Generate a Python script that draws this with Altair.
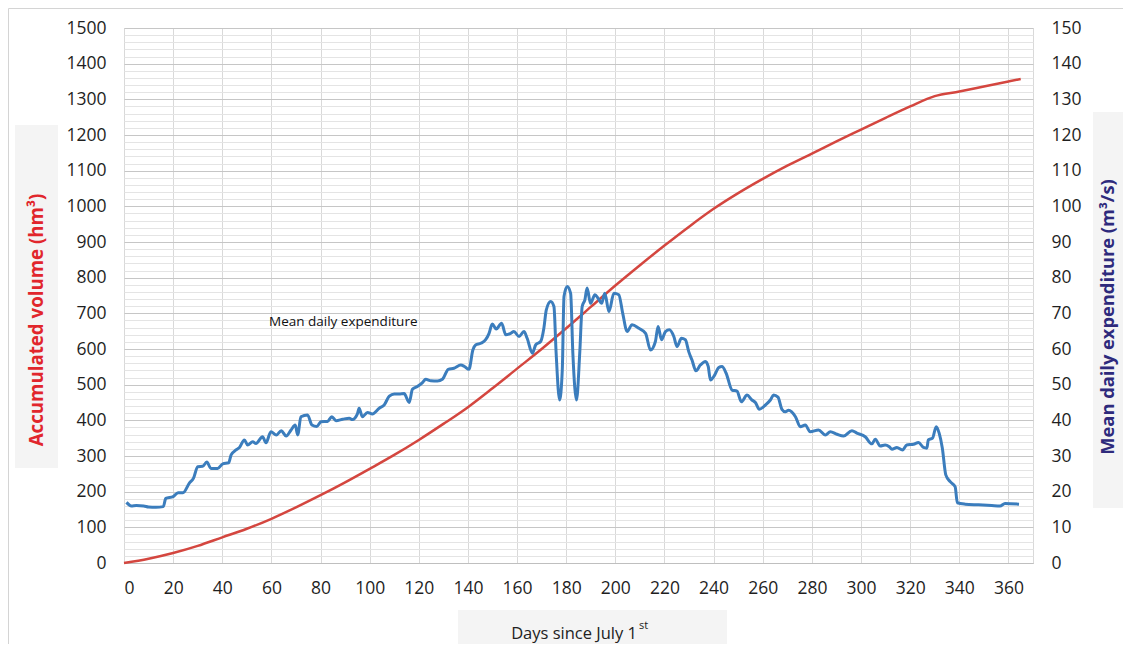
import altair as alt
import pandas as pd

# ---- data ----
blue_days = [1, 3, 5, 8, 10, 13, 16, 17, 20, 22, 24, 26.6, 28.3, 30, 32, 33.7, 35.4, 38.1, 40.2, 42.6,
             43.6, 45.6, 47, 49, 50.3, 52.4, 53.7, 56.4, 57.8, 59.8, 62, 64, 66, 68, 69.7, 70.7, 72, 74.7,
             76.5, 78.5, 80.2, 82.8, 84.6, 86.3, 89, 91.7, 93, 95, 95.7, 97, 99.1, 101.1, 103.9, 105.9,
             108, 110, 112, 114, 116.1, 117.4, 119.4, 121.5, 122.8, 124.9, 127.6, 129.6, 132, 134.3,
             137.1, 138.6, 140.4, 142, 143.1, 145.2, 147.2, 148.6, 149.9, 151.5, 153.7, 155.4, 157.4,
             158.7, 160.8, 162.8, 164.1, 166.2, 167.6, 169.6, 170.9, 171.9, 173.7, 175, 175.9, 177.3,
             178.4, 179.1, 180.4, 181.8, 182.7, 184.2, 185.5, 186.5, 187.6, 188.5, 189.9, 191.7, 193,
             194.4, 195.7, 197.4, 199.4, 201.4, 203, 204.8, 206.8, 209.6, 212.3, 214.3, 216.3, 217.4,
             218.8, 220.4, 222, 223.8, 225.1, 226.9, 228.5, 229.9, 231.2, 232.8, 234.6, 236.7, 237.8,
             238.7, 240.1, 242.1, 243.4, 245.1, 247.5, 249.5, 251.3, 253.6, 255.6, 257, 258.6, 261.1,
             263.1, 264.4, 266.2, 267.8, 269.2, 270.5, 273.3, 275.3, 277.3, 279.3, 282.7, 285.5, 287.5,
             290.2, 292.9, 296.3, 298.3, 301.7, 304.4, 305.8, 307.8, 309.8, 311.5, 312.6, 314.6, 316.9,
             318.6, 321.4, 323.4, 325.4, 326.8, 327.4, 329.1, 330.6, 331.8, 333.1, 334.5, 336.3, 338.3,
             339.2, 342.4, 347.8, 353.2, 356.6, 358.6, 364.3]
blue_vals = [17.0, 16.0, 16.1, 16.0, 15.7, 15.6, 15.8, 18.1, 18.6, 19.7, 19.7, 22.4, 23.8, 27.0, 27.1, 28.3,
             26.5, 26.5, 27.8, 28.1, 30.3, 31.7, 32.4, 34.5, 33.1, 34.0, 33.5, 35.4, 33.7, 36.8, 35.9, 37.1,
             35.6, 37.3, 38.7, 35.9, 41.0, 41.5, 38.7, 38.3, 39.6, 39.7, 41.0, 39.9, 40.3, 40.6, 40.2, 41.8,
             43.4, 41.0, 42.2, 41.8, 43.4, 44.3, 46.8, 47.4, 47.4, 47.5, 45.0, 48.7, 49.5, 50.6, 51.5, 51.1,
             51.0, 51.5, 54.3, 54.6, 55.5, 55.1, 54.3, 59.7, 61.1, 61.6, 62.6, 64.4, 67.0, 65.6, 67.2, 64.0,
             64.4, 64.9, 63.5, 64.9, 63.0, 58.8, 61.2, 62.1, 65.8, 71.0, 73.3, 71.9, 58.8, 45.7, 54.1, 74.7,
             77.5, 75.6, 58.8, 45.7, 58.8, 71.9, 73.8, 77.1, 72.8, 75.2, 74.2, 72.8, 75.6, 70.5, 75.6, 75.2,
             70.0, 64.9, 66.8, 65.8, 64.4, 59.7, 62.1, 66.3, 62.6, 64.9, 65.4, 63.5, 60.7, 63.0, 62.6, 59.2,
             56.9, 53.9, 55.5, 56.5, 55.1, 51.3, 52.3, 54.8, 55.1, 53.2, 48.5, 48.2, 45.2, 47.1, 45.7, 45.0,
             43.1, 44.3, 45.7, 47.1, 46.5, 43.1, 42.4, 42.8, 41.0, 38.2, 38.7, 36.8, 37.3, 35.9, 36.8, 36.1,
             35.6, 37.1, 36.4, 35.4, 33.4, 34.7, 32.8, 33.1, 32.6, 31.9, 32.4, 31.7, 33.1, 33.3, 33.8, 32.4,
             32.2, 34.5, 35.0, 38.2, 36.4, 32.2, 24.7, 22.8, 21.4, 16.9, 16.5, 16.3, 16.1, 16.0, 16.7, 16.5]

red_days = [0, 10, 20, 30, 40, 50, 60, 70, 80, 90, 100, 110, 120, 130, 140, 150, 160, 170, 180, 190,
            200, 210, 220, 230, 240, 250, 260, 270, 280, 290, 300, 310, 320, 330, 340, 350, 360, 365]
red_vals = [0, 12, 28, 48, 72, 96, 124, 156, 190, 226, 264, 303, 345, 390, 437, 490, 545, 600, 658, 718,
            778, 835, 890, 943, 993, 1037, 1077, 1114, 1148, 1182, 1215, 1248, 1280, 1309, 1322, 1336,
            1350, 1357]

x_ticks = list(range(0, 361, 20))
left_ticks = list(range(0, 1501, 20))
right_ticks = list(range(0, 151, 10))

left_title = "Accumulated volume (hm³)"
right_title = "Mean daily expenditure  (m³/s)"
x_title = "Days since July 1"
x_title_sup = "st"
annotation = "Mean daily expenditure"

FONT = "Open Sans"
LABEL = "#1f1f1f"

blue_df = pd.DataFrame({"day": blue_days, "q": blue_vals})
red_df = pd.DataFrame({"day": red_days, "v": red_vals})
one = pd.DataFrame({"a": [0]})

x_axis = alt.Axis(values=x_ticks, title=None, grid=True, gridColor="#d9d9d9", ticks=False,
                  labelPadding=16, labelFontSize=17.5, labelColor=LABEL, labelFont=FONT,
                  domainColor="#bfbfbf", labelOverlap=False, format="d")
x_scale = alt.Scale(domain=[0, 370], nice=False, zero=False)

red = alt.Chart(red_df).mark_line(color="#d4463f", strokeWidth=2.5, interpolate="monotone").encode(
    x=alt.X("day:Q", scale=x_scale, axis=x_axis),
    y=alt.Y("v:Q", scale=alt.Scale(domain=[0, 1500], nice=False),
            axis=alt.Axis(orient="left", values=left_ticks, format="d",
                          labelExpr="datum.value % 100 === 0 ? datum.label : ''",
                          grid=True,
                          gridColor={"condition": {"test": "datum.value % 100 === 0", "value": "#c6c6c6"},
                                     "value": "#e4e4e4"},
                          ticks=False, domain=False, title=None, labelPadding=18,
                          labelFontSize=17.5, labelColor=LABEL, labelFont=FONT, labelOverlap=False)),
)

blue = alt.Chart(blue_df).mark_line(color="#3b7dbd", strokeWidth=3, interpolate="monotone").encode(
    x=alt.X("day:Q", scale=x_scale, axis=x_axis),
    y=alt.Y("q:Q", scale=alt.Scale(domain=[0, 150], nice=False),
            axis=alt.Axis(orient="right", values=right_ticks, format="d", grid=False,
                          ticks=False, domain=False, title=None, labelPadding=18,
                          labelFontSize=17.5, labelColor=LABEL, labelFont=FONT, labelOverlap=False)),
)

def box(x1, x2, y1, y2, color="#f4f4f4"):
    return alt.Chart(one).mark_rect(color=color).encode(
        x=alt.value(x1), x2=alt.value(x2), y=alt.value(y1), y2=alt.value(y2))

frame = alt.Chart(one).mark_rect(fill=None, stroke="#d4d4d4", strokeWidth=1).encode(
    x=alt.value(-115.5), x2=alt.value(1200), y=alt.value(-19.5), y2=alt.value(800))

left_box = box(-109, -66, 97, 440)
right_box = box(969, 1010, 84, 480)
x_box = box(334, 603, 582, 640)

left_t = alt.Chart(one).mark_text(angle=270, fontWeight="bold", fontSize=18.7, color="#e1262c",
                                  font=FONT, align="center", baseline="middle").encode(
    x=alt.value(-87), y=alt.value(292), text=alt.value(left_title))
right_t = alt.Chart(one).mark_text(angle=270, fontWeight="bold", fontSize=18.3, color="#2e2a7c",
                                   font=FONT, align="center", baseline="middle").encode(
    x=alt.value(985), y=alt.value(289), text=alt.value(right_title))
x_t = alt.Chart(one).mark_text(fontSize=16.5, color="#222222", font=FONT, align="right",
                               baseline="middle").encode(
    x=alt.value(513), y=alt.value(606), text=alt.value(x_title))
x_sup = alt.Chart(one).mark_text(fontSize=11, color="#222222", font=FONT, align="left",
                                 baseline="middle").encode(
    x=alt.value(515), y=alt.value(598), text=alt.value(x_title_sup))
ann = alt.Chart(one).mark_text(fontSize=13.5, color="#111111", font=FONT, align="left",
                               baseline="middle").encode(
    x=alt.value(145), y=alt.value(294), text=alt.value(annotation))

chart = alt.layer(
    frame, left_box, right_box, x_box, red, blue, left_t, right_t, x_t, x_sup, ann
).resolve_scale(y="independent").properties(
    width=909, height=535,
    autosize=alt.AutoSizeParams(type="none"),
    padding={"left": 116, "top": 20, "right": 90, "bottom": 81},
).configure_view(stroke="#d9d9d9")

chart.save("out.html", embed_options={"renderer": "svg", "actions": False})
